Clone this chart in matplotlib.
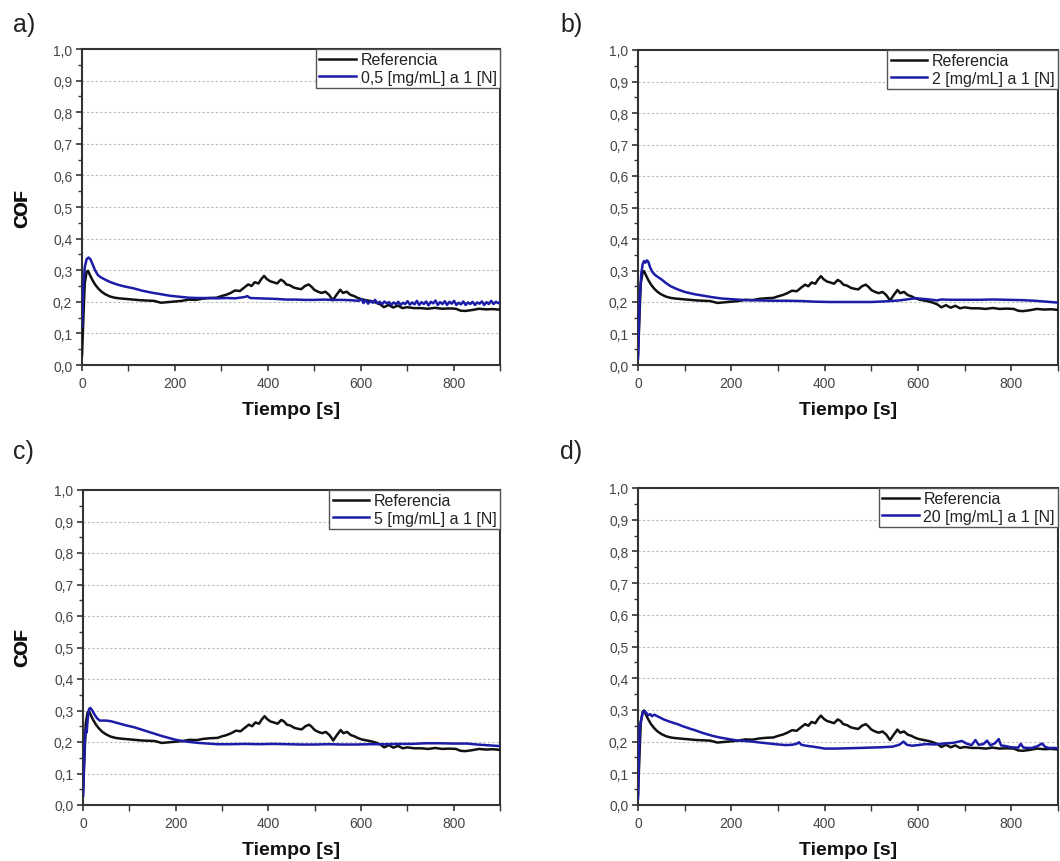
import matplotlib
matplotlib.use("Agg")
import matplotlib.pyplot as plt
from matplotlib.ticker import MultipleLocator, FuncFormatter

plt.rcParams['font.family'] = ['Liberation Sans', 'DejaVu Sans']

# reference curve (same in all panels)
t_ref = [0, 3, 6, 10, 13, 17, 22, 28, 35, 42, 50, 60, 70, 80, 95, 110, 125, 140, 155, 170,
         185, 200, 215, 230, 245, 260, 275, 290, 300, 310, 320, 330, 340, 350, 358, 365, 372,
         380, 386, 392, 398, 405, 412, 420, 428, 434, 440, 448, 456, 464, 472, 480, 488, 494,
         500, 508, 516, 524, 532, 540, 548, 556, 562, 570, 578, 586, 594, 602, 612, 622, 632,
         642, 650, 660, 670, 680, 690, 700, 715, 730, 745, 760, 775, 790, 805, 815, 825, 840,
         855, 870, 885, 900]
cof_ref = [0.03, 0.15, 0.26, 0.295, 0.298, 0.285, 0.27, 0.255, 0.242, 0.232, 0.224, 0.217,
           0.213, 0.211, 0.209, 0.207, 0.205, 0.204, 0.203, 0.197, 0.199, 0.201, 0.203, 0.207,
           0.206, 0.21, 0.212, 0.213, 0.218, 0.222, 0.228, 0.236, 0.234, 0.246, 0.255, 0.25,
           0.262, 0.258, 0.272, 0.282, 0.272, 0.265, 0.262, 0.258, 0.27, 0.265, 0.255, 0.252,
           0.245, 0.242, 0.24, 0.25, 0.255, 0.248, 0.238, 0.232, 0.228, 0.232, 0.222, 0.205,
           0.222, 0.238, 0.228, 0.232, 0.222, 0.218, 0.212, 0.208, 0.205, 0.202, 0.198, 0.192,
           0.183, 0.19, 0.182, 0.188, 0.18, 0.183, 0.18, 0.18, 0.178, 0.181, 0.178, 0.179,
           0.178, 0.172, 0.171, 0.174, 0.178, 0.176, 0.177, 0.175]

# a) 0,5 mg/mL
t_a = [0, 3, 6, 10, 14, 18, 23, 28, 34, 40, 50, 60, 75, 90, 110, 130, 150, 170, 190, 210,
       230, 250, 270, 290, 310, 330, 350, 356, 362, 380, 400, 420, 440, 460, 480, 500, 520,
       540, 560, 580, 595,
       602, 606, 611, 616, 621, 626, 631, 636, 641, 646, 651, 656, 661, 666, 671, 676, 681,
       686, 691, 696, 701, 706, 711, 716, 721, 726, 731, 736, 741, 746, 751, 756, 761, 766,
       771, 776, 781, 786, 791, 796, 801, 806, 811, 816, 821, 826, 831, 836, 841, 846, 851,
       856, 861, 866, 871, 876, 881, 886, 891, 896, 900]
cof_a = [0.12, 0.25, 0.31, 0.335, 0.34, 0.335, 0.318, 0.3, 0.285, 0.278, 0.27, 0.263, 0.255,
         0.249, 0.243, 0.235, 0.229, 0.224, 0.219, 0.216, 0.213, 0.212, 0.212, 0.211, 0.212,
         0.211, 0.215, 0.218, 0.212, 0.211, 0.21, 0.209, 0.207, 0.207, 0.206, 0.206, 0.207,
         0.206, 0.206, 0.205, 0.203,
         0.208, 0.196, 0.205, 0.194, 0.203, 0.197, 0.206, 0.195, 0.2, 0.192, 0.201, 0.195,
         0.199, 0.19, 0.198, 0.193, 0.2, 0.19, 0.197, 0.193, 0.202, 0.191, 0.198, 0.192,
         0.203, 0.19, 0.199, 0.193, 0.201, 0.189, 0.2, 0.195, 0.204, 0.19, 0.199, 0.193,
         0.202, 0.19, 0.2, 0.194, 0.203, 0.19, 0.197, 0.192, 0.201, 0.19, 0.198, 0.193, 0.2,
         0.19, 0.198, 0.194, 0.201, 0.19, 0.199, 0.193, 0.203, 0.193, 0.2, 0.196, 0.199]

# b) 2 mg/mL
t_b = [0, 2, 4, 7, 10, 13, 16, 19, 22, 26, 30, 35, 40, 50, 60, 70, 85, 100, 120, 140, 160,
       180, 200, 230, 260, 290, 320, 350, 380, 410, 440, 470, 500, 530, 560, 580, 595, 610,
       625, 640, 650, 670, 700, 730, 760, 790, 820, 850, 875, 900]
cof_b = [0.02, 0.12, 0.22, 0.29, 0.32, 0.33, 0.325, 0.332, 0.328, 0.31, 0.297, 0.288, 0.282,
         0.272, 0.26, 0.25, 0.24, 0.232, 0.225, 0.22, 0.215, 0.211, 0.209, 0.206, 0.205,
         0.204, 0.204, 0.203, 0.201, 0.2, 0.2, 0.2, 0.2, 0.202, 0.205, 0.209, 0.212, 0.21,
         0.208, 0.205, 0.208, 0.207, 0.207, 0.207, 0.208, 0.207, 0.206, 0.204, 0.201, 0.198]

# c) 5 mg/mL
t_c = [0, 2, 4, 6, 8, 10, 13, 16, 20, 25, 30, 36, 42, 50, 60, 70, 80, 95, 110, 125, 140,
       155, 170, 185, 200, 215, 230, 250, 270, 290, 320, 350, 380, 410, 440, 470, 500, 530,
       560, 590, 620, 650, 680, 710, 740, 770, 800, 830, 850, 870, 900]
cof_c = [0.03, 0.12, 0.2, 0.24, 0.23, 0.27, 0.305, 0.308, 0.3, 0.287, 0.276, 0.268, 0.268,
         0.268, 0.266, 0.262, 0.258, 0.252, 0.247, 0.24, 0.233, 0.226, 0.219, 0.213, 0.207,
         0.203, 0.2, 0.197, 0.195, 0.193, 0.193, 0.194, 0.193, 0.194, 0.193, 0.192, 0.192,
         0.193, 0.192, 0.192, 0.193, 0.193, 0.194, 0.194, 0.196, 0.196, 0.195, 0.195, 0.192,
         0.19, 0.187]

# d) 20 mg/mL
t_d = [0, 2, 4, 7, 10, 14, 18, 22, 26, 30, 35, 40, 47, 55, 62, 70, 78, 85, 95, 103, 113,
       124, 135, 146, 160, 175, 190, 210, 228, 245, 262, 281, 300, 317, 330, 340, 345, 350,
       360, 375, 388, 400, 424, 450, 475, 495, 520, 545, 560, 569, 576, 587, 600, 615, 637,
       655, 675, 694, 705, 715, 723, 730, 740, 748, 755, 765, 773, 778, 787, 800, 815, 820,
       826, 835, 844, 855, 866, 872, 880, 894, 900]
cof_d = [0.02, 0.15, 0.25, 0.27, 0.29, 0.297, 0.29, 0.283, 0.287, 0.28, 0.285, 0.281, 0.276,
         0.27, 0.266, 0.262, 0.258, 0.255, 0.249, 0.245, 0.24, 0.235, 0.229, 0.224, 0.218,
         0.213, 0.209, 0.204, 0.202, 0.2, 0.197, 0.194, 0.191, 0.189, 0.19, 0.193, 0.198,
         0.19, 0.187, 0.184, 0.181, 0.178, 0.178, 0.179, 0.18, 0.181, 0.182, 0.184, 0.19,
         0.2, 0.19, 0.187, 0.189, 0.192, 0.191, 0.194, 0.196, 0.202, 0.193, 0.189, 0.205,
         0.19, 0.192, 0.203, 0.188, 0.195, 0.208, 0.188, 0.186, 0.182, 0.181, 0.193, 0.181,
         0.18, 0.18, 0.185, 0.194, 0.184, 0.18, 0.18, 0.178]

letters = ["a)", "b)", "c)", "d)"]
series_labels = ["0,5 [mg/mL] a 1 [N]", "2 [mg/mL] a 1 [N]",
                 "5 [mg/mL] a 1 [N]", "20 [mg/mL] a 1 [N]"]
series_t = [t_a, t_b, t_c, t_d]
series_cof = [cof_a, cof_b, cof_c, cof_d]

W, H = 1060, 862
# axes boxes in pixels: left, top, right, bottom
boxes = [(82, 50, 500, 366), (638, 51, 1058, 366),
         (83, 491, 500, 806), (638, 489, 1058, 806)]
letter_pos = [(13, 25), (560, 25), (13, 452), (560, 452)]

fig = plt.figure(figsize=(W / 100, H / 100), dpi=100)

for i in range(4):
    l, t, r, b = boxes[i]
    ax = fig.add_axes([l / W, 1 - b / H, (r - l) / W, (b - t) / H])
    ax.plot(t_ref, cof_ref, color="#111111", lw=1.8, label="Referencia", zorder=3)
    ax.plot(series_t[i], series_cof[i], color="#1c1ca8", lw=1.8, label=series_labels[i], zorder=3)
    ax.set_xlim(0, 900)
    ax.set_ylim(0, 1.0)
    ax.xaxis.set_major_locator(MultipleLocator(200))
    ax.xaxis.set_minor_locator(MultipleLocator(100))
    ax.yaxis.set_major_locator(MultipleLocator(0.1))
    ax.yaxis.set_minor_locator(MultipleLocator(0.05))
    ax.yaxis.set_major_formatter(FuncFormatter(lambda v, p: f"{v:.1f}".replace(".", ",")))
    ax.xaxis.set_major_formatter(FuncFormatter(lambda v, p: f"{v:.0f}"))
    ax.tick_params(which="major", direction="out", length=4, width=1.2, color="#333333",
                   labelsize=10, labelcolor="#444444", pad=3)
    ax.tick_params(which="minor", direction="out", length=3, width=1, color="#333333")
    ax.tick_params(axis="x", which="both", length=4)
    ax.tick_params(axis="x", pad=4)
    for sp in ax.spines.values():
        sp.set_color("#333333")
        sp.set_linewidth(1.5)
    ax.grid(axis="y", which="major", color="#bbbbbb", lw=0.8, ls=(0, (2, 2)))
    ax.set_axisbelow(True)
    ax.set_xlabel("Tiempo [s]", fontsize=14, fontweight="bold", color="#111111")
    ax.set_ylabel("COF", fontsize=13, fontweight="bold", color="#111111")
    # x label top sits 36 px below the axis, y label right edge at x = 31 px
    ax.xaxis.set_label_coords(0.5, -36 / (b - t))
    ax.yaxis.set_label_coords((31 - l) / (r - l), 0.5)
    leg = ax.legend(loc="upper right", fontsize=11.5, frameon=True, fancybox=False,
                    borderaxespad=0, borderpad=0.2, labelspacing=0.15,
                    handlelength=2.3, handletextpad=0.3, framealpha=1)
    leg.get_frame().set_edgecolor("#555555")
    leg.get_frame().set_linewidth(1.0)
    for txt in leg.get_texts():
        txt.set_color("#222222")
    lx, ly = letter_pos[i]
    fig.text(lx / W, 1 - ly / H, letters[i], fontsize=18, color="#222222",
             ha="left", va="center")

fig.savefig("out.png", dpi=100)
